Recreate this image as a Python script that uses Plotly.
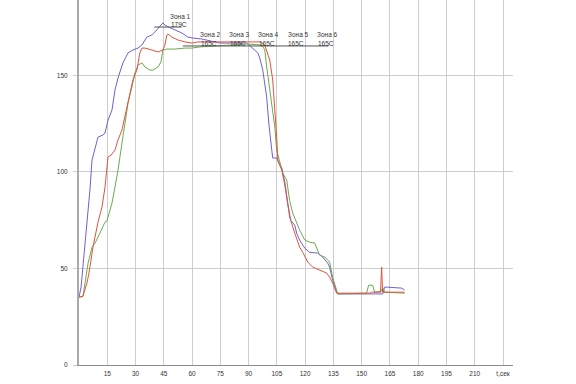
import plotly.graph_objects as go

# Time (s) and temperature (°C) for the three thermocouple traces
blue_t = [0, 1.1, 5.8, 6.9, 10.1, 12.7, 13.8, 15.4, 17.5, 19.1, 20.7, 23.3, 26.0, 28.6, 31.3, 33.4, 36.0,
          38.7, 41.3, 42.9, 44.5, 45.6, 47.2, 50.9, 54.6, 57.8, 60.4, 65.2, 67.8, 74.7, 89.0, 92.2, 94.9,
          95.9, 97.5, 99.6, 100.7, 102.3, 102.8, 104.9, 106.0, 107.6, 109.2, 110.8, 112.3, 114.5, 115.5,
          117.1, 119.8, 122.4, 126.7, 129.3, 132.0, 133.0, 134.6, 136.7, 137.3, 161.1, 162.2, 163.8,
          171.2, 172.8]
blue_v = [35, 40.3, 90.6, 106.1, 118.0, 119.1, 120.1, 126.8, 132.0, 142.4, 148.6, 156.4, 161.6, 163.1,
          164.1, 165.7, 169.8, 170.9, 173.5, 175.1, 177.1, 176.1, 175.1, 173.5, 171.9, 169.8, 169.3, 168.8,
          168.3, 166.7, 166.7, 164.1, 161.6, 159.0, 152.7, 138.8, 125.3, 111.3, 107.2, 107.2, 104.6, 102.0,
          94.7, 83.8, 75.0, 72.4, 68.3, 64.7, 60.5, 58.4, 57.9, 55.9, 52.7, 50.7, 43.9, 37.7, 36.8, 36.8,
          40.3, 40.3, 39.8, 38.8]

red_t = [0, 2.1, 4.2, 5.3, 7.4, 9.5, 10.1, 12.2, 13.8, 15.4, 17.0, 19.1, 20.7, 22.8, 24.4, 27.0, 28.6,
         30.7, 32.3, 33.4, 35.0, 38.7, 41.9, 44.5, 45.6, 46.6, 47.2, 49.3, 52.5, 56.2, 59.9, 63.1, 95.9,
         98.6, 99.6, 101.2, 102.8, 103.9, 104.9, 105.5, 107.6, 109.2, 111.8, 114.5, 117.1, 118.7, 121.4,
         124.0, 127.7, 131.4, 133.0, 134.6, 136.7, 154.2, 155.3, 160.0, 160.6, 161.1, 172.8]
red_v = [35.1, 35.6, 42.4, 47.6, 61.0, 71.4, 74.0, 81.8, 92.1, 107.7, 108.7, 111.3, 116.5, 121.7, 128.4,
         140.8, 147.6, 152.7, 161.6, 164.1, 164.1, 163.1, 162.1, 163.1, 165.7, 170.9, 171.4, 169.8, 168.3,
         167.3, 166.7, 167.3, 167.3, 165.7, 163.1, 157.9, 147.6, 133.6, 118.0, 106.1, 100.9, 93.2, 76.6,
         68.3, 61.0, 58.4, 53.3, 50.7, 49.2, 47.6, 45.5, 42.4, 37.2, 37.2, 37.7, 37.7, 50.7, 37.7, 37.7]

green_t = [0, 2.1, 3.2, 4.8, 6.9, 8.5, 11.1, 13.8, 14.8, 17.5, 19.1, 20.7, 22.8, 24.4, 26.0, 28.1, 29.7,
           31.3, 33.4, 35.0, 37.6, 39.2, 41.9, 43.5, 44.5, 46.6, 50.9, 56.2, 59.9, 64.1, 89.0, 97.0, 98.6,
           99.6, 101.7, 103.9, 104.9, 106.5, 108.1, 110.2, 111.8, 113.4, 115.5, 117.1, 119.8, 122.4, 125.1,
           127.7, 130.4, 133.0, 134.6, 136.7, 137.3, 152.6, 153.7, 155.8, 156.9, 160.6, 161.1, 162.2, 172.8]
green_v = [35.1, 35.6, 42.4, 52.7, 61.0, 63.1, 68.3, 74.0, 74.5, 83.8, 92.1, 100.9, 114.9, 125.3, 135.6,
           144.0, 151.2, 155.3, 156.4, 154.3, 152.7, 152.7, 154.3, 156.9, 163.1, 163.6, 163.6, 164.1, 164.1,
           164.7, 166.2, 165.7, 163.1, 154.3, 139.8, 123.3, 111.3, 104.6, 99.4, 95.8, 85.0, 78.7, 73.5, 69.8,
           64.7, 63.6, 63.1, 56.9, 55.9, 53.3, 45.5, 37.7, 36.8, 37.2, 41.3, 41.3, 37.7, 38.2, 40.3, 37.7, 37.2]

x_ticks = [15, 30, 45, 60, 75, 90, 105, 120, 135, 150, 165, 180, 195, 210, 225]
x_tick_text = ["15", "30", "45", "60", "75", "90", "105", "120", "135", "150", "165", "180", "195", "210", "t,сек"]
y_ticks = [0, 50, 100, 150]

zone_names = ["Зона 1", "Зона 2", "Зона 3", "Зона 4", "Зона 5", "Зона 6"]
zone_temps = ["179С", "165С", "165С", "165С", "165С", "165С"]
zone_label_t = [47.2, 63.1, 78.4, 93.8, 109.7, 125.1]

FONT = "Liberation Sans"

fig = go.Figure()
fig.add_trace(go.Scatter(x=blue_t, y=blue_v, mode="lines", line=dict(color="#6f5fd6", width=1)))
fig.add_trace(go.Scatter(x=green_t, y=green_v, mode="lines", line=dict(color="#6cab4e", width=1)))
fig.add_trace(go.Scatter(x=red_t, y=red_v, mode="lines", line=dict(color="#e0533f", width=1)))

# zone labels
for i, (n, tv, xt) in enumerate(zip(zone_names, zone_temps, zone_label_t)):
    y1, y2 = (180.7, 176.4) if i == 0 else (170.9, 166.7)
    fig.add_annotation(x=xt, y=y1, text=n, showarrow=False, xanchor="left", yanchor="middle",
                       font=dict(family=FONT, size=6.5, color="#333"))
    fig.add_annotation(x=xt + 0.4, y=y2, text=tv, showarrow=False, xanchor="left",
                       yanchor="middle", font=dict(family=FONT, size=6.5, color="#333"))

fig.add_shape(type="line", x0=39.9, x1=54.4, y0=175.0, y1=175.0, line=dict(color="#555", width=1))
fig.add_shape(type="line", x0=55.1, x1=132.5, y0=165.2, y1=165.2, line=dict(color="#555", width=1))

fig.update_layout(
    width=576, height=384,
    margin=dict(l=79, r=63, t=0, b=19, autoexpand=False),
    paper_bgcolor="white", plot_bgcolor="white",
    showlegend=False,
    xaxis=dict(range=[0, 230.3], tickvals=x_ticks, ticktext=x_tick_text, showgrid=True,
               gridcolor="#cdcdcd", gridwidth=1.3, zeroline=False, showline=True, linecolor="#8c8c8c",
               linewidth=1, ticks="", ticklabelstandoff=2,
               tickfont=dict(family=FONT, size=6.5, color="#333")),
    yaxis=dict(range=[0, 189], tickvals=y_ticks, showgrid=True, gridcolor="#cdcdcd", gridwidth=1,
               zeroline=False, showline=True, linecolor="#aaaaaa", linewidth=2, ticks="outside",
               ticklen=4, tickcolor="#cdcdcd", ticklabelstandoff=4,
               tickfont=dict(family=FONT, size=6.5, color="#333")),
)

fig.write_html("out.html", config={"displayModeBar": False},
               post_script="document.body.style.margin='0px';")
